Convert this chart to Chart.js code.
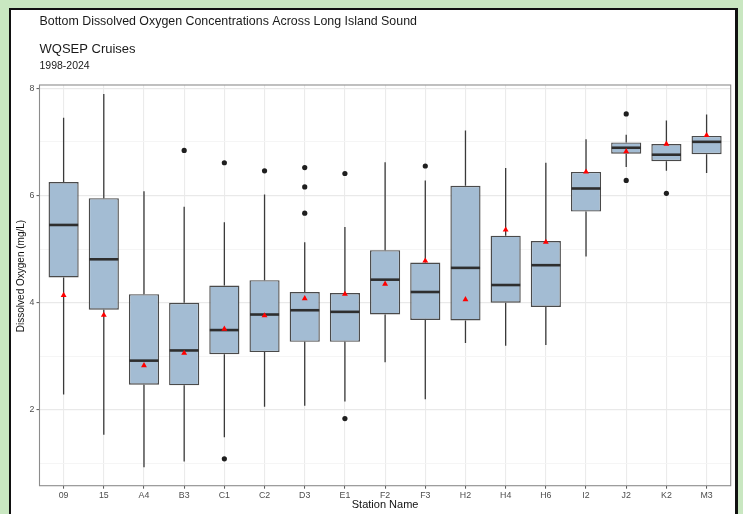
<!DOCTYPE html>
<html>
<head>
<meta charset="utf-8">
<script src="https://cdn.jsdelivr.net/npm/chart.js@4/dist/chart.umd.min.js"></script>
<style>
  html, body { margin: 0; padding: 0; }
  body { width: 743px; height: 514px; overflow: hidden; position: relative; background: rgb(201, 231, 193); }
  #frame { position: absolute; left: 9px; top: 8px; width: 724px; height: 540px; background: #fff;
           border-left: 2px solid #111; border-top: 2px solid #111; border-right: 3px solid #111; }
  #wrap { position: absolute; left: 0; top: 0; width: 743px; height: 514px; }
</style>
</head>
<body>
<div id="frame"></div>
<div id="wrap"><canvas id="chart" width="743" height="514"></canvas></div>
<script>
// Stations along the Sound
const stations = ['09', '15', 'A4', 'B3', 'C1', 'C2', 'D3', 'E1', 'F2', 'F3', 'H2', 'H4', 'H6', 'I2', 'J2', 'K2', 'M3'];

// Box-plot summaries of bottom dissolved oxygen (mg/L)
const whiskerLow  = [2.29, 1.54, 0.93, 1.04, 1.49, 2.06, 2.08, 2.16, 2.89, 2.20, 3.25, 3.20, 3.21, 4.86, 6.53, 6.46, 6.42];
const q1          = [4.47, 3.87, 2.47, 2.46, 3.04, 3.08, 3.27, 3.27, 3.78, 3.68, 3.67, 4.00, 3.92, 5.70, 6.78, 6.64, 6.77];
const median      = [5.45, 4.81, 2.92, 3.11, 3.49, 3.78, 3.86, 3.83, 4.43, 4.20, 4.65, 4.33, 4.70, 6.13, 6.89, 6.76, 7.00];
const q3          = [6.25, 5.95, 4.16, 4.00, 4.32, 4.42, 4.20, 4.18, 4.98, 4.75, 6.18, 5.25, 5.15, 6.44, 6.99, 6.96, 7.11];
const whiskerHigh = [7.45, 7.89, 6.08, 5.79, 5.50, 6.02, 5.13, 5.41, 6.62, 6.28, 7.21, 6.51, 6.61, 7.05, 7.13, 7.40, 7.51];
const meanDO      = [4.14, 3.77, 2.83, 3.06, 3.51, 3.76, 4.08, 4.16, 4.35, 4.78, 4.06, 5.36, 5.13, 6.44, 6.82, 6.96, 7.12];

// Outlying observations
const outlierStation = ['B3', 'C1', 'C1', 'C2', 'D3', 'D3', 'D3', 'E1', 'E1', 'F3', 'J2', 'J2', 'K2'];
const outlierValue   = [6.84, 6.61, 1.09, 6.46, 6.52, 6.16, 5.67, 6.41, 1.84, 6.55, 7.52, 6.28, 6.04];

// Axis ticks
const yGridValues = [1, 2, 3, 4, 5, 6, 7, 8];
const yLabelValues = [2, 4, 6, 8];

const FONT = "'Liberation Sans', Arial, sans-serif";
const TEXT_GREY = '#4d4d4d';

const boxData = stations.map((s, i) => ({ x: i + 1, y: [q1[i], q3[i]] }));
const meanData = stations.map((s, i) => ({ x: i + 1, y: meanDO[i] }));
const outlierData = outlierStation.map((s, i) => ({ x: stations.indexOf(s) + 1, y: outlierValue[i] }));

// Whiskers, medians, panel border and titles
const boxExtras = {
  id: 'boxExtras',
  afterDatasetDraw(chart, args) {
    if (args.index !== 0) return;
    const y = chart.scales.y;
    const ctx = chart.ctx;
    const elems = args.meta.data;
    ctx.save();
    ctx.lineCap = 'butt';
    elems.forEach((el, i) => {
      const x = el.x;
      const half = el.width / 2;
      // whiskers
      ctx.strokeStyle = '#3a3a3a';
      ctx.lineWidth = 1.3;
      ctx.beginPath();
      ctx.moveTo(x, y.getPixelForValue(q3[i]));
      ctx.lineTo(x, y.getPixelForValue(whiskerHigh[i]));
      ctx.moveTo(x, y.getPixelForValue(q1[i]));
      ctx.lineTo(x, y.getPixelForValue(whiskerLow[i]));
      ctx.stroke();
      // median
      ctx.strokeStyle = '#2e2e2e';
      ctx.lineWidth = 2.6;
      const my = y.getPixelForValue(median[i]);
      ctx.beginPath();
      ctx.moveTo(x - half + 0.5, my);
      ctx.lineTo(x + half - 0.5, my);
      ctx.stroke();
    });
    ctx.restore();
  },
  beforeDatasetsDraw(chart) {
    const a = chart.chartArea;
    const ctx = chart.ctx;
    ctx.save();
    ctx.strokeStyle = '#8c8c8c';
    ctx.lineWidth = 1.1;
    ctx.strokeRect(a.left, a.top, a.right - a.left, a.bottom - a.top);
    ctx.restore();
  },
  afterDraw(chart) {
    const ctx = chart.ctx;
    const left = chart.chartArea.left;
    ctx.save();
    ctx.fillStyle = '#1a1a1a';
    ctx.textBaseline = 'alphabetic';
    ctx.textAlign = 'left';
    ctx.font = '12.4px ' + FONT;
    ctx.fillText('Bottom Dissolved Oxygen Concentrations Across Long Island Sound', left, 25);
    ctx.font = '13px ' + FONT;
    ctx.fillText('WQSEP Cruises', left, 53);
    ctx.font = '10.5px ' + FONT;
    ctx.fillText('1998-2024', left, 68.5);
    // y-axis title
    ctx.fillStyle = '#111';
    ctx.font = '10px ' + FONT;
    ctx.textAlign = 'center';
    ctx.textBaseline = 'middle';
    ctx.translate(21.5, 276);
    ctx.rotate(-Math.PI / 2);
    ctx.fillText('Dissolved Oxygen (mg/L)', 0, 0);
    ctx.restore();
  }
};

new Chart(document.getElementById('chart'), {
  type: 'bar',
  data: {
    datasets: [
      {
        type: 'bar',
        data: boxData,
        backgroundColor: '#a3bcd3',
        borderColor: '#4a4a4a',
        borderWidth: 1.4,
        borderSkipped: false,
        categoryPercentage: 0.75,
        barPercentage: 1.0,
        order: 3
      },
      {
        type: 'scatter',
        data: outlierData,
        pointStyle: 'circle',
        pointRadius: 2.6,
        pointBackgroundColor: '#1f1f1f',
        pointBorderWidth: 0,
        order: 2
      },
      {
        type: 'scatter',
        data: meanData,
        pointStyle: 'triangle',
        pointRadius: 3.4,
        pointBackgroundColor: '#ff0000',
        pointBorderColor: '#ff0000',
        pointBorderWidth: 0,
        order: 1
      }
    ]
  },
  options: {
    responsive: false,
    animation: false,
    events: [],
    layout: { padding: { left: 10, top: 85, right: 12.3, bottom: 0 } },
    plugins: { legend: { display: false }, tooltip: { enabled: false }, title: { display: false } },
    scales: {
      x: {
        type: 'linear',
        offset: false,
        min: 0.4,
        max: 17.6,
        afterBuildTicks(scale) { scale.ticks = stations.map((s, i) => ({ value: i + 1 })); },
        afterFit(scale) { scale.height = 514 - 485.7; },
        border: { display: false },
        grid: { offset: false, color: '#ebebeb', lineWidth: 1.1, tickColor: '#555', tickLength: 3, tickWidth: 1 },
        ticks: {
          autoSkip: false, maxRotation: 0, padding: 2, color: TEXT_GREY,
          font: { family: FONT, size: 8.8 },
          callback: (v) => stations[v - 1]
        },
        title: { display: true, text: 'Station Name', color: '#111', font: { family: FONT, size: 11 }, padding: { top: 0, bottom: 2 } }
      },
      y: {
        type: 'linear',
        min: 0.588,
        max: 8.06,
        afterBuildTicks(scale) { scale.ticks = yGridValues.map(v => ({ value: v })); },
        afterFit(scale) { scale.width = 29.5; },
        border: { display: false },
        grid: {
          color: (c) => (c.tick && yLabelValues.includes(c.tick.value)) ? '#e9e9e9' : '#f4f4f4',
          lineWidth: (c) => (c.tick && yLabelValues.includes(c.tick.value)) ? 1.2 : 0.9,
          tickColor: (c) => (c.tick && yLabelValues.includes(c.tick.value)) ? '#555' : 'rgba(0,0,0,0)',
          tickLength: 3,
          tickWidth: 1
        },
        ticks: {
          padding: 2, color: TEXT_GREY,
          font: { family: FONT, size: 8.8 },
          callback: (v) => yLabelValues.includes(v) ? String(v) : ''
        },
        title: { display: false }
      }
    }
  },
  plugins: [boxExtras]
});
</script>
</body>
</html>
